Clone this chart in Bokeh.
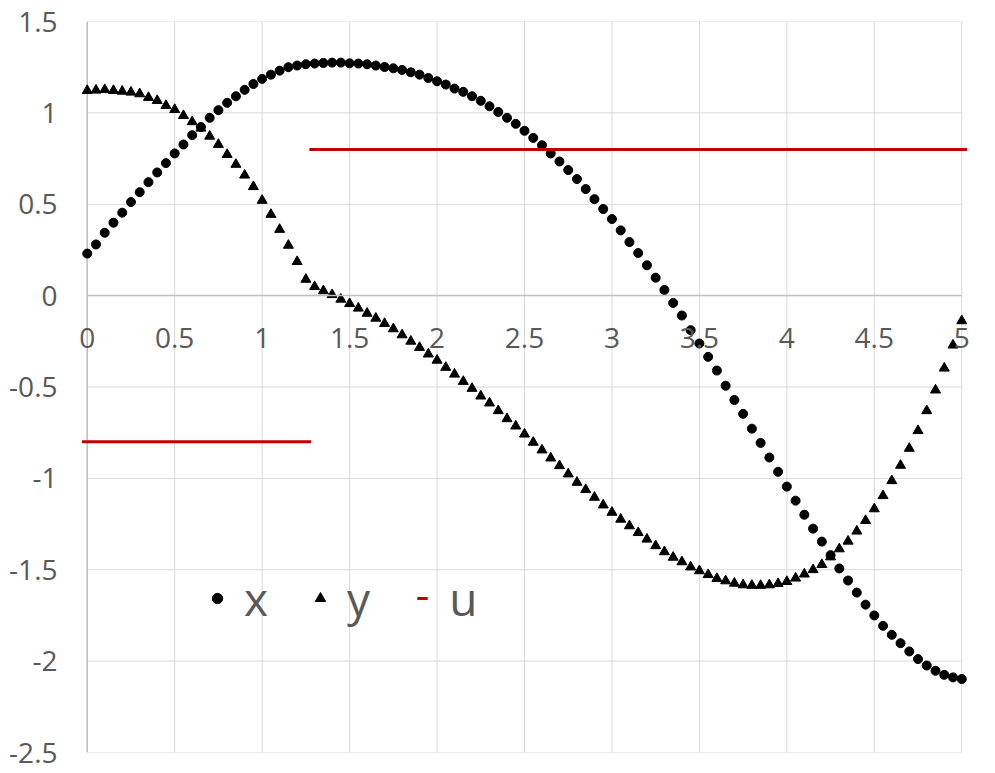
import numpy as np
from bokeh.plotting import figure
from bokeh.models import (Range1d, FixedTicker, CustomJSTickFormatter, Legend,
                          LegendItem, ColumnDataSource)
from bokeh.embed import file_html
from bokeh.resources import INLINE

# sample positions (every 0.05 from 0 to 5)
t = [round(i * 0.05, 2) for i in range(101)]

# series "x" (circles)
x_vals = [0.23, 0.28, 0.344, 0.399, 0.454, 0.512, 0.566, 0.621, 0.674, 0.725,
          0.778, 0.827, 0.878, 0.923, 0.973, 1.015, 1.055, 1.091, 1.126, 1.158,
          1.186, 1.209, 1.231, 1.25, 1.259, 1.266, 1.27, 1.273, 1.275, 1.275,
          1.271, 1.27, 1.266, 1.259, 1.251, 1.244, 1.235, 1.222, 1.209, 1.191,
          1.173, 1.155, 1.133, 1.115, 1.091, 1.066, 1.036, 1.005, 0.973, 0.94,
          0.902, 0.863, 0.823, 0.778, 0.734, 0.687, 0.638, 0.583, 0.528, 0.474,
          0.419, 0.357, 0.293, 0.233, 0.166, 0.098, 0.031, -0.040, -0.109, -0.189,
          -0.262, -0.335, -0.41, -0.493, -0.571, -0.647, -0.728, -0.806, -0.886, -0.964,
          -1.045, -1.122, -1.199, -1.275, -1.346, -1.42, -1.493, -1.559, -1.625, -1.691,
          -1.75, -1.807, -1.856, -1.902, -1.947, -1.989, -2.024, -2.053, -2.075, -2.089,
          -2.098]

# series "y" (triangles)
y_vals = [1.122, 1.124, 1.127, 1.122, 1.118, 1.113, 1.104, 1.084, 1.067, 1.04,
          1.018, 0.985, 0.951, 0.916, 0.872, 0.827, 0.772, 0.718, 0.659, 0.596,
          0.521, 0.444, 0.362, 0.275, 0.186, 0.089, 0.049, 0.026, 0.005, -0.02,
          -0.044, -0.069, -0.097, -0.124, -0.153, -0.182, -0.215, -0.25, -0.284, -0.32,
          -0.354, -0.393, -0.43, -0.47, -0.508, -0.55, -0.588, -0.63, -0.674, -0.714,
          -0.758, -0.803, -0.845, -0.889, -0.931, -0.976, -1.022, -1.062, -1.104, -1.146,
          -1.186, -1.224, -1.26, -1.297, -1.333, -1.369, -1.402, -1.432, -1.457, -1.485,
          -1.506, -1.527, -1.548, -1.561, -1.574, -1.583, -1.586, -1.586, -1.583, -1.576,
          -1.565, -1.546, -1.524, -1.5, -1.472, -1.43, -1.386, -1.344, -1.289, -1.231,
          -1.167, -1.095, -1.013, -0.929, -0.836, -0.739, -0.63, -0.517, -0.397, -0.271,
          -0.138]

# series "u" (step levels, as drawn)
u_start = [-0.03, 1.27]
u_end = [1.28, 5.03]
u_level = [-0.8, 0.8]

x_ticks = [0, 0.5, 1, 1.5, 2, 2.5, 3, 3.5, 4, 4.5, 5]
y_ticks = [-2.5, -2, -1.5, -1, -0.5, 0, 0.5, 1, 1.5]

FONT = "Open Sans"
LABEL_COLOR = "#595959"
GRID_COLOR = "#D9D9D9"
AXIS_COLOR = "#BFBFBF"
RED = "#C00000"

p = figure(frame_width=892, frame_height=731,
           x_range=Range1d(-0.05, 5.05), y_range=Range1d(-2.5, 1.5),
           output_backend="svg", toolbar_location=None,
           min_border_left=78, min_border_top=21, min_border_right=12,
           min_border_bottom=21)
p.outline_line_color = None
p.background_fill_color = "white"
p.border_fill_color = "white"
p.xgrid.visible = False
p.ygrid.visible = False

# grid lines limited to the data area (0..5, -2.5..1.5)
hg = ColumnDataSource(data=dict(y=y_ticks, x0=[x_ticks[0]] * len(y_ticks),
                                x1=[x_ticks[-1]] * len(y_ticks)))
p.segment(x0="x0", y0="y", x1="x1", y1="y", source=hg,
          line_color=GRID_COLOR, line_width=1)
vg = ColumnDataSource(data=dict(x=x_ticks, y0=[y_ticks[0]] * len(x_ticks),
                                y1=[y_ticks[-1]] * len(x_ticks)))
p.segment(x0="x", y0="y0", x1="x", y1="y1", source=vg,
          line_color=GRID_COLOR, line_width=1)
# vertical axis line at x = 0
p.segment(x0=[x_ticks[0]], y0=[y_ticks[0]], x1=[x_ticks[0]], y1=[y_ticks[-1]],
          line_color=AXIS_COLOR, line_width=1.5)

fmt = CustomJSTickFormatter(code="return String(Math.round(tick*100)/100);")

for ax in (p.xaxis[0], p.yaxis[0]):
    ax.major_label_text_font = FONT
    ax.major_label_text_font_size = "28px"
    ax.major_label_text_color = LABEL_COLOR
    ax.axis_line_color = AXIS_COLOR
    ax.axis_line_width = 1.5
    ax.major_tick_line_color = None
    ax.minor_tick_line_color = None
    ax.major_tick_out = 0
    ax.major_tick_in = 0
    ax.formatter = fmt

p.xaxis.ticker = FixedTicker(ticks=x_ticks)
p.yaxis.ticker = FixedTicker(ticks=y_ticks)
p.xaxis.fixed_location = 0
p.xaxis.bounds = (x_ticks[0], x_ticks[-1])
p.xaxis.major_label_standoff = 32
p.yaxis.axis_line_color = None
p.yaxis.major_label_standoff = 21

src = ColumnDataSource(data=dict(t=t, xv=x_vals, yv=y_vals))
r_x = p.scatter("t", "xv", source=src, marker="circle", size=9,
                fill_color="black", line_color="black")
r_y = p.scatter("t", "yv", source=src, marker="triangle", size=10,
                fill_color="black", line_color="black")
useg = ColumnDataSource(data=dict(x0=u_start, x1=u_end, lv=u_level))
p.segment(x0="x0", y0="lv", x1="x1", y1="lv", source=useg,
          line_color=RED, line_width=3)
# legend-only marker for "u"
r_u = p.scatter(x=np.array([np.nan]), y=np.array([np.nan]), marker="dash",
                size=10, line_color=RED, line_width=3)

legend = Legend(items=[LegendItem(label="x", renderers=[r_x]),
                       LegendItem(label="y", renderers=[r_y]),
                       LegendItem(label="u", renderers=[r_u])],
                orientation="horizontal", location=(126, 119),
                glyph_width=26, glyph_height=70, label_height=70,
                label_standoff=14, spacing=39, padding=0, margin=0,
                border_line_color=None, background_fill_alpha=0,
                label_text_font=FONT, label_text_font_size="46px",
                label_text_color=LABEL_COLOR)
p.add_layout(legend, "center")

open("out.html", "w").write(file_html(p, INLINE))
